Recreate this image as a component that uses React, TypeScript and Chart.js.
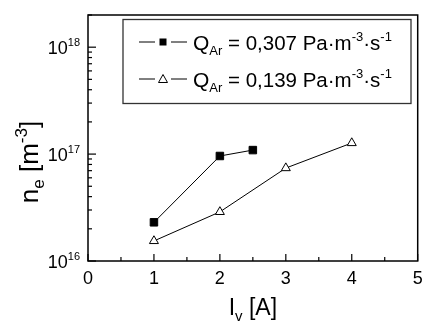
import { useEffect, useRef } from "react";
import { Chart, registerables } from "chart.js";

Chart.register(...registerables);

const currentsHigh = [1, 2, 2.5];
const densityHigh = [2.3e16, 9.6e16, 1.09e17];
const currentsLow = [1, 2, 3, 4];
const densityLow = [1.54e16, 2.88e16, 7.4e16, 1.27e17];
const xTickValues = [0, 1, 2, 3, 4, 5];
const xTickLabels = ["0", "1", "2", "3", "4", "5"];
const yDecadeExponents = [16, 17, 18];
const legendFlows = ["0,307", "0,139"];

const FONT = "'Liberation Sans', Arial, sans-serif";

type Seg = { t: string; s: number; dy: number };

function segWidth(ctx: CanvasRenderingContext2D, segs: Seg[]) {
  let w = 0;
  for (const g of segs) {
    ctx.font = `${g.s}px ${FONT}`;
    w += ctx.measureText(g.t).width;
  }
  return w;
}

function drawSegs(ctx: CanvasRenderingContext2D, segs: Seg[], x: number, y: number) {
  let cx = x;
  for (const g of segs) {
    ctx.font = `${g.s}px ${FONT}`;
    ctx.fillText(g.t, cx, y + g.dy);
    cx += ctx.measureText(g.t).width;
  }
  return cx;
}

const decorPlugin = {
  id: "decor",
  afterDatasetsDraw(chart: any) {
    const ctx: CanvasRenderingContext2D = chart.ctx;
    const area = chart.chartArea;
    const xs = chart.scales.x;
    const ys = chart.scales.y;
    ctx.save();
    ctx.fillStyle = "#000";
    ctx.strokeStyle = "#000";
    ctx.textAlign = "left";
    ctx.textBaseline = "alphabetic";

    // frame
    ctx.lineWidth = 1.5;
    ctx.strokeRect(area.left, area.top, area.right - area.left, area.bottom - area.top);

    // x ticks
    ctx.lineWidth = 1.2;
    for (let v = 0; v <= 5.001; v += 0.5) {
      const px = xs.getPixelForValue(v);
      const major = Math.abs(v - Math.round(v)) < 1e-6;
      const len = major ? 7 : 4;
      ctx.beginPath();
      ctx.moveTo(px, area.bottom);
      ctx.lineTo(px, area.bottom - len);
      ctx.stroke();
    }
    // x labels
    xTickValues.forEach((v, i) => {
      const px = xs.getPixelForValue(v);
      ctx.font = `18px ${FONT}`;
      const w = ctx.measureText(xTickLabels[i]).width;
      ctx.fillText(xTickLabels[i], px - w / 2, area.bottom + 23);
    });

    // y ticks
    for (let e = 16; e <= 18; e++) {
      for (let m = 1; m <= 9; m++) {
        const val = m * Math.pow(10, e);
        if (val > ys.max * 1.0001) break;
        const py = ys.getPixelForValue(val);
        const len = m === 1 ? 8 : 4;
        ctx.beginPath();
        ctx.moveTo(area.left, py);
        ctx.lineTo(area.left + len, py);
        ctx.stroke();
      }
    }
    // y labels
    yDecadeExponents.forEach((e) => {
      const py = ys.getPixelForValue(Math.pow(10, e));
      const segs: Seg[] = [
        { t: "10", s: 18, dy: 0 },
        { t: String(e), s: 11, dy: -8 },
      ];
      const w = segWidth(ctx, segs);
      drawSegs(ctx, segs, 80 - w, py + 6.5);
    });

    // x title
    const xt: Seg[] = [
      { t: "I", s: 23, dy: 0 },
      { t: "v", s: 15, dy: 6 },
      { t: " [A]", s: 23, dy: 0 },
    ];
    const xtw = segWidth(ctx, xt);
    drawSegs(ctx, xt, (area.left + area.right) / 2 - xtw / 2, 315);

    // y title
    const yt: Seg[] = [
      { t: "n", s: 26, dy: 0 },
      { t: "e", s: 17, dy: 6 },
      { t: " [m", s: 26, dy: 0 },
      { t: "-3", s: 17, dy: -11 },
      { t: "]", s: 26, dy: 0 },
    ];
    const ytw = segWidth(ctx, yt);
    ctx.save();
    ctx.translate(38, 162);
    ctx.rotate(-Math.PI / 2);
    drawSegs(ctx, yt, -ytw / 2, 0);
    ctx.restore();

    // legend
    const bx = 123, by = 19.5, bw = 288, bh = 84;
    ctx.lineWidth = 1.3;
    ctx.strokeStyle = "#333";
    ctx.strokeRect(bx, by, bw, bh);
    ctx.strokeStyle = "#000";
    const rows = [42, 79];
    legendFlows.forEach((flow, i) => {
      const ry = rows[i];
      ctx.lineWidth = 1;
      ctx.beginPath();
      ctx.moveTo(139, ry);
      ctx.lineTo(155, ry);
      ctx.moveTo(171, ry);
      ctx.lineTo(187, ry);
      ctx.stroke();
      if (i === 0) {
        ctx.fillRect(159.5, ry - 3.5, 7, 7);
      } else {
        ctx.beginPath();
        ctx.moveTo(163, ry - 4.5);
        ctx.lineTo(167.5, ry + 3.5);
        ctx.lineTo(158.5, ry + 3.5);
        ctx.closePath();
        ctx.fillStyle = "#fff";
        ctx.fill();
        ctx.stroke();
        ctx.fillStyle = "#000";
      }
      const segs: Seg[] = [
        { t: "Q", s: 21, dy: 0 },
        { t: "Ar", s: 13, dy: 5 },
        { t: ` = ${flow} Pa·m`, s: 20.5, dy: 0 },
        { t: "-3", s: 13, dy: -9 },
        { t: "·s", s: 20.5, dy: 0 },
        { t: "-1", s: 13, dy: -9 },
      ];
      drawSegs(ctx, segs, 193, ry + 7.5);
    });

    ctx.restore();
  },
};

export default function App() {
  const ref = useRef<HTMLCanvasElement | null>(null);
  useEffect(() => {
    if (!ref.current) return;
    const chart = new Chart(ref.current, {
      type: "scatter",
      data: {
        datasets: [
          {
            label: "high",
            data: currentsHigh.map((x, i) => ({ x, y: densityHigh[i] })),
            showLine: true,
            borderColor: "#000",
            borderWidth: 1,
            pointStyle: "rect",
            pointRadius: 5.3,
            pointBackgroundColor: "#000",
            pointBorderColor: "#000",
            pointBorderWidth: 1,
          },
          {
            label: "low",
            data: currentsLow.map((x, i) => ({ x, y: densityLow[i] })),
            showLine: true,
            borderColor: "#000",
            borderWidth: 1,
            pointStyle: "triangle",
            pointRadius: 5.2,
            pointBackgroundColor: "#fff",
            pointBorderColor: "#000",
            pointBorderWidth: 1,
          },
        ],
      },
      options: {
        animation: false,
        responsive: false,
        devicePixelRatio: 1,
        layout: { padding: { left: 88, top: 15, right: 4, bottom: 61 } },
        scales: {
          x: { type: "linear", min: 0, max: 5, display: false },
          y: { type: "logarithmic", min: 1e16, max: 2e18, display: false },
        },
        plugins: { legend: { display: false }, tooltip: { enabled: false } },
      },
      plugins: [decorPlugin],
    });
    return () => chart.destroy();
  }, []);
  return (
    <div style={{ position: "absolute", left: 0, top: 0, width: 424, height: 322, background: "#fff" }}>
      <canvas ref={ref} width={424} height={322} />
    </div>
  );
}
